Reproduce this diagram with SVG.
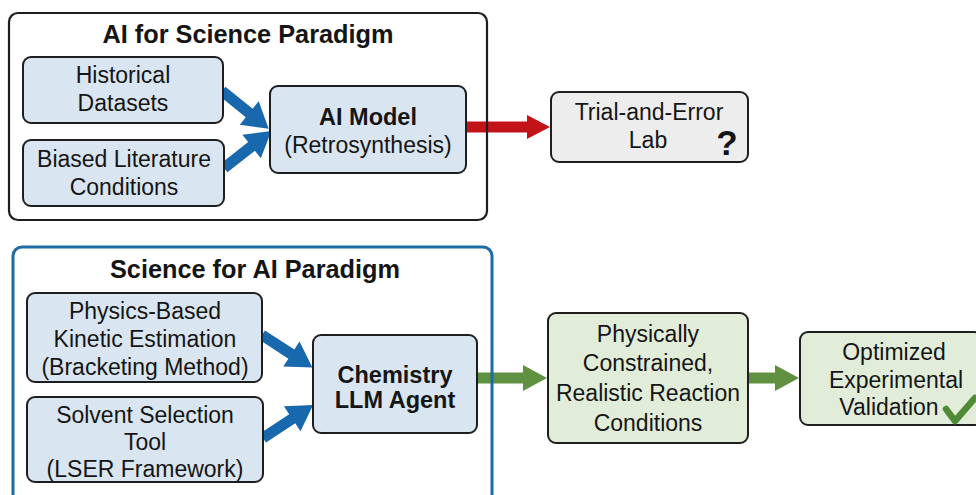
<svg xmlns="http://www.w3.org/2000/svg" width="976" height="495" viewBox="0 0 976 495">
  <defs>
    <style>
      text { font-family: "Liberation Sans", Arial, sans-serif; fill: #151515; text-anchor: middle; }
      .t { font-size: 23px; }
      .b { font-size: 23.5px; font-weight: bold; }
      .title { font-size: 25.3px; font-weight: bold; }
      .blue { fill: #d9e5f0; stroke: #1e1e1e; stroke-width: 2; }
      .grey { fill: #ededed; stroke: #1e1e1e; stroke-width: 2; }
      .green { fill: #e2edd9; stroke: #1e1e1e; stroke-width: 2; }
      .ba { fill: #1768ad; }
    </style>
    <path id="blueArrow" d="M0,-5.5 L35,-5.5 L35,-15 L60,0 L35,15 L35,5.5 L0,5.5 Z"/>
  </defs>
  <rect width="976" height="495" fill="#ffffff"/>

  <g id="connectors">
    <use href="#blueArrow" class="ba" transform="translate(222,91) rotate(38.9)"/>
    <use href="#blueArrow" class="ba" transform="translate(224,168) rotate(-38)"/>
    <use href="#blueArrow" class="ba" transform="translate(262,335) rotate(32.9)"/>
    <use href="#blueArrow" class="ba" transform="translate(263,438) rotate(-33.4)"/>
    <path d="M466,121.5 L527,121.5 L527,115 L550,127 L527,139 L527,132.5 L466,132.5 Z" fill="#c21418"/>
    <path d="M477,372.5 L523,372.5 L523,365 L547,378 L523,391 L523,383.5 L477,383.5 Z" fill="#5f9140"/>
    <path d="M748,372.5 L775,372.5 L775,365 L799,378 L775,391 L775,383.5 L748,383.5 Z" fill="#5f9140"/>
  </g>

  <g id="frame-ai-for-science">
    <rect x="9" y="13" width="478" height="207" rx="9" fill="none" stroke="#1e1e1e" stroke-width="2.2"/>
    <text class="title" x="248" y="43">AI for Science Paradigm</text>
  </g>

  <g id="frame-science-for-ai">
    <rect x="13" y="247" width="479" height="260" rx="9" fill="none" stroke="#1f6ba3" stroke-width="3"/>
    <text class="title" x="255" y="278">Science for AI Paradigm</text>
  </g>

  <g id="historical-datasets">
    <rect class="blue" x="23" y="57" width="200" height="66" rx="8"/>
    <text class="t" x="123" y="83">Historical</text>
    <text class="t" x="123" y="111">Datasets</text>
  </g>

  <g id="biased-literature">
    <rect class="blue" x="23" y="140" width="201" height="66" rx="8"/>
    <text class="t" x="124" y="167">Biased Literature</text>
    <text class="t" x="124" y="195">Conditions</text>
  </g>

  <g id="ai-model">
    <rect class="blue" x="270" y="86" width="196" height="87" rx="8"/>
    <text class="b" x="368" y="125">AI Model</text>
    <text class="t" x="368" y="153">(Retrosynthesis)</text>
  </g>

  <g id="trial-and-error-lab">
    <rect class="grey" x="551" y="92" width="197" height="70" rx="8"/>
    <text class="t" x="649" y="120">Trial-and-Error</text>
    <text class="t" x="648" y="148">Lab</text>
    <text x="727" y="155" style="font-size:35px;font-weight:bold">?</text>
  </g>

  <g id="physics-based">
    <rect class="blue" x="27" y="293" width="235" height="89" rx="8"/>
    <text class="t" x="145" y="319">Physics-Based</text>
    <text class="t" x="145" y="347">Kinetic Estimation</text>
    <text class="t" x="145" y="375">(Bracketing Method)</text>
  </g>

  <g id="solvent-selection">
    <rect class="blue" x="27" y="397" width="236" height="85" rx="8"/>
    <text class="t" x="145" y="423">Solvent Selection</text>
    <text class="t" x="145" y="450">Tool</text>
    <text class="t" x="145" y="477">(LSER Framework)</text>
  </g>

  <g id="chemistry-llm-agent">
    <rect class="blue" x="313" y="335" width="164" height="98" rx="8"/>
    <text class="b" x="395" y="383">Chemistry</text>
    <text class="b" x="395" y="408">LLM Agent</text>
  </g>

  <g id="physically-constrained">
    <rect class="green" x="548" y="313" width="200" height="130" rx="8"/>
    <text class="t" x="648" y="342">Physically</text>
    <text class="t" x="648" y="371">Constrained,</text>
    <text class="t" x="648" y="401">Realistic Reaction</text>
    <text class="t" x="648" y="431">Conditions</text>
  </g>

  <g id="optimized-validation">
    <rect class="green" x="800" y="332" width="182" height="93" rx="8"/>
    <text class="t" x="894" y="360">Optimized</text>
    <text class="t" x="896" y="388">Experimental</text>
    <text class="t" x="889" y="415">Validation</text>
    <path d="M946,409 L955,421 L975,398" fill="none" stroke="#4f8a34" stroke-width="6.5" stroke-linecap="round" stroke-linejoin="round"/>
  </g>
</svg>
